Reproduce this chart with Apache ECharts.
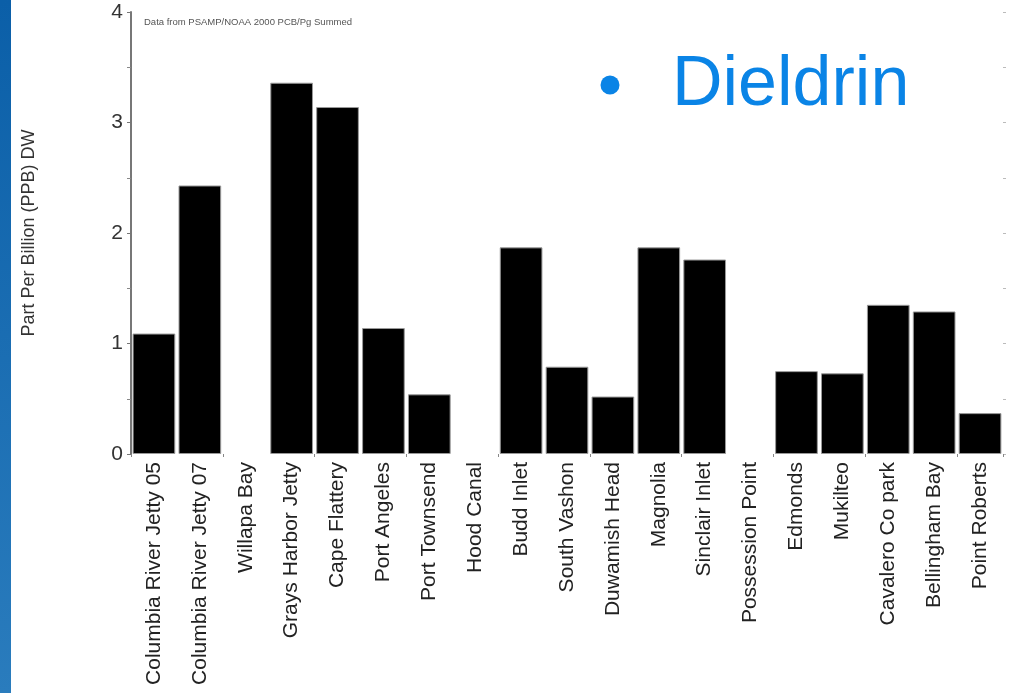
<!DOCTYPE html>
<html>
<head>
<meta charset="utf-8">
<script src="https://cdn.jsdelivr.net/npm/echarts@6/dist/echarts.min.js"></script>
<style>
html,body{margin:0;padding:0;background:#fff;}
#chart{width:1015px;height:693px;}
</style>
</head>
<body>
<div id="chart"></div>
<script>
var categories = ["Columbia River Jetty 05","Columbia River Jetty 07","Willapa Bay","Grays Harbor Jetty","Cape Flattery","Port Angeles","Port Townsend","Hood Canal","Budd Inlet","South Vashon","Duwamish Head","Magnolia","Sinclair Inlet","Possession Point","Edmonds","Mukilteo","Cavalero Co park","Bellingham Bay","Point Roberts"];
var values = [1.09, 2.43, 0, 3.36, 3.14, 1.14, 0.54, 0, 1.87, 0.79, 0.52, 1.87, 1.76, 0, 0.75, 0.73, 1.35, 1.29, 0.37];
var yTicks = [0, 1, 2, 3, 4];
var yAxisTitle = "Part Per Billion (PPB) DW";
var noteText = "Data from PSAMP/NOAA 2000 PCB/Pg Summed";
var titleText = "Dieldrin";

var chart = echarts.init(document.getElementById('chart'), null, {renderer: 'canvas'});
var font = "'Liberation Sans', Arial, sans-serif";
var barData = values.map(function (v) {
  return v === 0 ? {value: v, itemStyle: {borderWidth: 0}} : v;
});
chart.setOption({
  animation: false,
  backgroundColor: '#ffffff',
  grid: {left: 131, right: 12, top: 12, bottom: 239, containLabel: false},
  xAxis: {
    type: 'category',
    data: categories,
    axisLine: {show: false},
    axisTick: {show: true, interval: 1, length: 3, lineStyle: {color: '#888'}},
    axisLabel: {rotate: 90, fontSize: 21, color: '#222', fontFamily: font, margin: 8, interval: 0}
  },
  yAxis: [{
    type: 'value',
    min: yTicks[0],
    max: yTicks[yTicks.length - 1],
    interval: 1,
    name: yAxisTitle,
    nameLocation: 'middle',
    nameRotate: 90,
    nameGap: 93,
    nameTextStyle: {fontSize: 18, color: '#333', fontFamily: font},
    axisLine: {show: true, lineStyle: {color: '#777', width: 2}},
    axisTick: {show: true, length: 4, lineStyle: {color: '#777'}},
    minorTick: {show: true, splitNumber: 2, length: 4, lineStyle: {color: '#888'}},
    axisLabel: {fontSize: 21, color: '#333', fontFamily: font, margin: 8},
    splitLine: {show: false}
  }, {
    type: 'value',
    position: 'right',
    min: 0,
    max: 4,
    interval: 0.5,
    axisLine: {show: false},
    axisTick: {show: true, length: 3, lineStyle: {color: '#bbb'}},
    axisLabel: {show: false},
    splitLine: {show: false}
  }],
  series: [{
    type: 'bar',
    data: barData,
    barCategoryGap: '7%',
    itemStyle: {color: '#000000', borderColor: '#999', borderWidth: 1}
  }],
  graphic: [
    {type: 'rect', shape: {x: 0, y: 0, width: 11, height: 693}, style: {fill: new echarts.graphic.LinearGradient(0, 0, 0, 1, [{offset: 0, color: '#0b5fa8'}, {offset: 1, color: '#2a7cbd'}])}, z: 100},
    {type: 'text', x: 144, y: 22, style: {text: noteText, fontSize: 9.5, fill: '#555', fontFamily: font, verticalAlign: 'middle'}, z: 100},
    {type: 'circle', shape: {cx: 610, cy: 85, r: 9.5}, style: {fill: '#0a84e6'}, z: 100},
    {type: 'text', x: 672, y: 86, style: {text: titleText, fontSize: 70, fill: '#0a84e6', fontFamily: font, verticalAlign: 'middle'}, z: 100}
  ]
});
</script>
</body>
</html>
